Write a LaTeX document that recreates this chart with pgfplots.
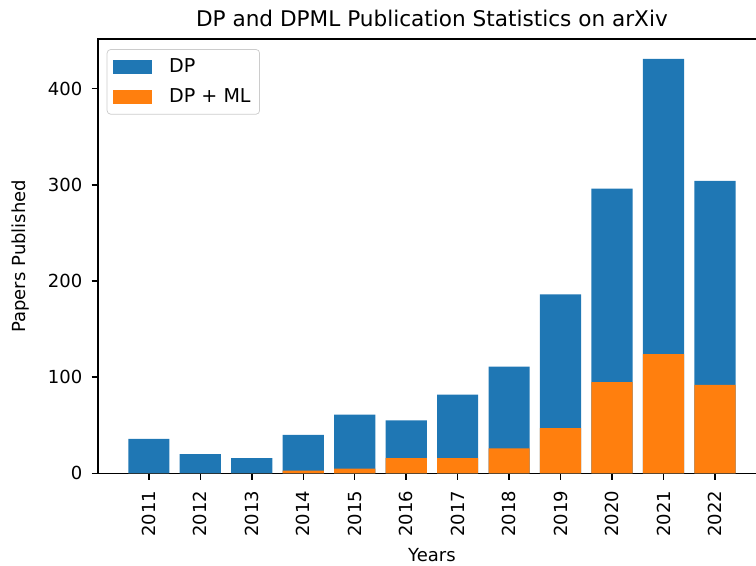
\documentclass[border=0pt]{standalone}
\usepackage{fontspec}
\setmainfont{DejaVu Sans}
\usepackage{pgfplots}
\pgfplotsset{compat=1.18}
\definecolor{cA}{HTML}{1F77B4}
\definecolor{cB}{HTML}{FF7F0E}
\begin{document}
\begin{tikzpicture}
\useasboundingbox (-54.4pt,-50.9pt) rectangle (365.6pt,263.0pt);
\clip (-54.4pt,-50.9pt) rectangle (365.6pt,263.0pt);
\begin{axis}[
  at={(0,0)}, anchor=south west,
  scale only axis, width=371.1pt, height=241.3pt,
  xmin=-0.99, xmax=11.99, ymin=0, ymax=451.5,
  xtick={0,1,2,3,4,5,6,7,8,9,10,11},
  xticklabels={2011,2012,2013,2014,2015,2016,2017,2018,2019,2020,2021,2022},
  ytick={0,100,200,300,400},
  tick align=outside, tick pos=left,
  major tick length=3.5pt,
  every tick/.style={black, line width=0.8pt},
  axis line style={line width=0.8pt},
  /pgf/number format/assume math mode=true,
  tick label style={font=\fontsize{10}{12}\selectfont},
  x tick label style={rotate=90, anchor=east, inner sep=6pt},
  y tick label style={inner sep=5pt},
  xlabel={Years}, ylabel={Papers Published},
  label style={font=\fontsize{10}{12}\selectfont},
  every axis x label/.style={at={(axis description cs:0.5,-0.188)}, anchor=center},
  every axis y label/.style={at={(axis description cs:-0.116,0.5)}, rotate=90, anchor=center},
  title={DP and DPML Publication Statistics on arXiv},
  every axis title/.style={at={(axis description cs:0.5,1.03)}, anchor=base, font=\fontsize{12}{14}\selectfont},
  legend style={at={(0,1)}, anchor=north west, xshift=4.9pt, yshift=-5.6pt,
    draw=black!20, rounded corners=2pt, font=\fontsize{10.6}{12.5}\selectfont,
    inner xsep=3pt, inner ysep=3pt, row sep=3.5pt,
    /tikz/every odd column/.append style={column sep=7.5pt}},
  legend cell align=left,
  legend image code/.code={\fill[#1, sharp corners] (0pt,-3.9pt) rectangle (22pt,3.9pt);},
]
\addplot[ybar, bar width=0.8, bar shift=0pt, fill=cA, draw=none] coordinates {
(0,36) (1,20) (2,16) (3,40) (4,61) (5,55) (6,82) (7,111) (8,186) (9,296) (10,431) (11,304)};
\addlegendentry{DP}
\addplot[ybar, bar width=0.8, bar shift=0pt, fill=cB, draw=none] coordinates {
(0,0) (1,0) (2,0) (3,3) (4,5) (5,16) (6,16) (7,26) (8,47) (9,95) (10,124) (11,92)};
\addlegendentry{DP + ML}
\end{axis}
\end{tikzpicture}
\end{document}
